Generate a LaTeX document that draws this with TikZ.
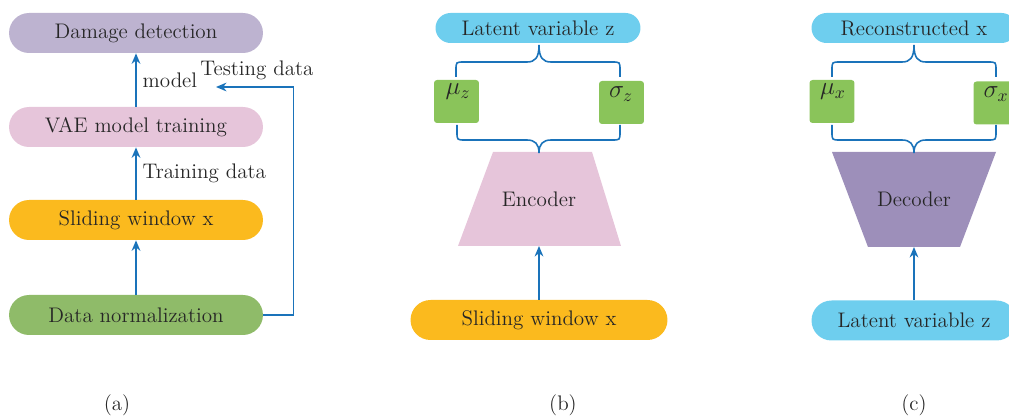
\documentclass[tikz,border=0pt]{standalone}
\usetikzlibrary{arrows.meta}
\definecolor{lavbox}{HTML}{BDB3D0}
\definecolor{pinkbox}{HTML}{E6C5DA}
\definecolor{yelbox}{HTML}{FBBA1E}
\definecolor{grnbox}{HTML}{8FBB69}
\definecolor{skybox}{HTML}{6ECEEE}
\definecolor{mubox}{HTML}{8AC45A}
\definecolor{decbox}{HTML}{9D8FBA}
\definecolor{arrblue}{HTML}{1A73BA}
\begin{document}
\begin{tikzpicture}[x=0.02cm,y=-0.02cm,font=\fontsize{12}{14}\selectfont,text=black!85,
    pill/.style={rectangle,rounded corners=0.4cm,minimum width=5.08cm,minimum height=0.8cm,inner sep=0pt},
    thinpill/.style={rectangle,rounded corners=0.3cm,minimum width=4.1cm,minimum height=0.6cm,inner sep=0pt},
    sqbox/.style={rectangle,rounded corners=0.06cm,fill=mubox,minimum width=0.9cm,minimum height=0.86cm},
    arr/.style={draw=arrblue,line width=0.9pt,-{Stealth[length=6pt,width=5pt]}},
    brc/.style={draw=arrblue,line width=0.9pt}]
    \useasboundingbox (0,0) rectangle (1009,418);
    \clip (0,0) rectangle (1009,418);
    % (a)
    \node[pill,fill=lavbox] (damage) at (136,33) {Damage detection};
    \node[pill,fill=pinkbox] (vae) at (136,127) {VAE model training};
    \node[pill,fill=yelbox] (slide) at (136,220) {Sliding window x};
    \node[pill,fill=grnbox] (norm) at (136,315) {Data normalization};
    \coordinate (testend) at (216,87);
    \draw[arr] (norm) -- (slide);
    \draw[arr] (slide) -- node[right] {Training data} (vae);
    \draw[arr] (vae) -- node[right] {model} (damage);
    \draw[arr] (norm.east) -- ++(30,0) |- (testend);
    \node (testlbl) at (257,70) {Testing data};
    \node (capa) at (117,405) {(a)};
    % (b)
    \node[thinpill,fill=skybox] (latb) at (538,28) {Latent variable z};
    \node[sqbox] (mub) at (456.5,101.5) {};
    \node[sqbox] (sigb) at (621.5,102.5) {};
    \node at (458,92) {\fontsize{14}{14}\selectfont$\mu_z$};
    \node at (621,94) {\fontsize{14}{14}\selectfont$\sigma_z$};
    \fill[pinkbox] (493,152) -- (592,152) -- (621,246) -- (458,246) -- cycle;
    \node (enc) at (539,199) {Encoder};
    \coordinate (encbot) at (539,246);
    \node[pill,minimum width=5.14cm,fill=yelbox] (slideb) at (539,320) {Sliding window x};
    \draw[brc] (456,77) -- (456,70) .. controls (456,62) .. (464,62) -- (527,62)
        .. controls (535,62) and (539,58) .. (539,45) .. controls (539,58) and (543,62) .. (551,62)
        -- (612,62) .. controls (620,62) .. (620,70) -- (620,77);
    \draw[brc] (457,125) -- (457,132) .. controls (457,140) .. (465,140) -- (527,140)
        .. controls (535,140) and (539,144) .. (539,153) .. controls (539,144) and (543,140) .. (551,140)
        -- (612,140) .. controls (620,140) .. (620,132) -- (620,125);
    \draw[arr] (slideb) -- (encbot);
    \node (capb) at (563,405) {(b)};
    % (c)
    \node[thinpill,fill=skybox] (recon) at (914,28) {Reconstructed x};
    \node[sqbox] (mux) at (832,101.5) {};
    \node[sqbox] (sigx) at (996,103) {};
    \node at (833,92) {\fontsize{14}{14}\selectfont$\mu_x$};
    \node at (996,94) {\fontsize{14}{14}\selectfont$\sigma_x$};
    \fill[decbox] (832,152) -- (996,152) -- (960,247) -- (868,247) -- cycle;
    \node (dec) at (914,199.5) {Decoder};
    \coordinate (decbot) at (914,247);
    \node[pill,minimum width=4.1cm,fill=skybox] (latc) at (914,320.5) {Latent variable z};
    \draw[brc] (832,77) -- (832,70) .. controls (832,62) .. (840,62) -- (902,62)
        .. controls (910,62) and (914,58) .. (914,45) .. controls (914,58) and (918,62) .. (926,62)
        -- (988,62) .. controls (996,62) .. (996,70) -- (996,77);
    \draw[brc] (832,125) -- (832,132) .. controls (832,140) .. (840,140) -- (902,140)
        .. controls (910,140) and (914,144) .. (914,153) .. controls (914,144) and (918,140) .. (926,140)
        -- (988,140) .. controls (996,140) .. (996,132) -- (996,125);
    \draw[arr] (latc) -- (decbot);
    \node (capc) at (914,405) {(c)};
\end{tikzpicture}
\end{document}
